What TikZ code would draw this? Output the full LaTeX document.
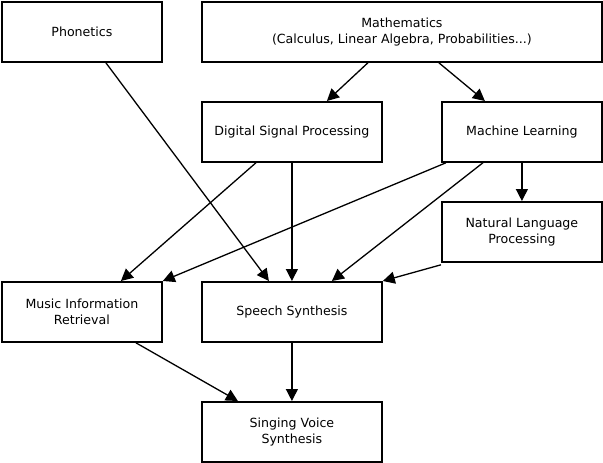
\documentclass[tikz,border=0pt]{standalone}
\usepackage{fontspec}
\setmainfont{DejaVu Sans}
\usetikzlibrary{arrows.meta}
\begin{document}
\begin{tikzpicture}[x=1pt,y=-1pt,
  box/.style={draw,line width=1.8pt,minimum width=#1,minimum height=60pt,inner sep=0pt,align=center,font=\fontsize{12.6}{16}\selectfont,anchor=north west},
  box/.default=160pt,
  conn/.style={line width=1.3pt,-{Triangle[length=12pt,width=12pt]}}]
\useasboundingbox (0,0) rectangle (603,463);
\node[box=160pt] (phon) at (1,1) {Phonetics};
\node[box=400pt] (math) at (201,1) {Mathematics\\(Calculus, Linear Algebra, Probabilities...)};
\node[box=180pt] (dsp) at (201,101) {Digital Signal Processing};
\node[box=160pt] (ml) at (441,101) {Machine Learning};
\node[box=160pt] (nlp) at (441,201) {Natural Language\\Processing};
\node[box=160pt] (mir) at (1,281) {Music Information\\Retrieval};
\node[box=180pt] (ss) at (201,281) {Speech Synthesis};
\node[box=180pt] (svs) at (201,401) {Singing Voice\\Synthesis};
\draw[conn] ([xshift=24pt]phon.south) -- ([xshift=-23pt]ss.north);
\draw[conn] ([xshift=-34pt]math.south) -- ([xshift=35pt]dsp.north);
\draw[conn] ([xshift=37pt]math.south) -- ([xshift=-37pt]ml.north);
\draw[conn] ([xshift=-36pt]dsp.south) -- ([xshift=39pt]mir.north);
\draw[conn] (dsp.south) -- (ss.north);
\draw[conn] ([xshift=-76pt]ml.south) -- (mir.north east);
\draw[conn] ([xshift=-39pt]ml.south) -- ([xshift=40pt]ss.north);
\draw[conn] (ml.south) -- (nlp.north);
\draw[conn] ([yshift=-2pt]nlp.south west) -- (ss.north east);
\draw[conn] ([xshift=54pt]mir.south) -- ([xshift=-54pt]svs.north);
\draw[conn] (ss.south) -- (svs.north);
\end{tikzpicture}
\end{document}
